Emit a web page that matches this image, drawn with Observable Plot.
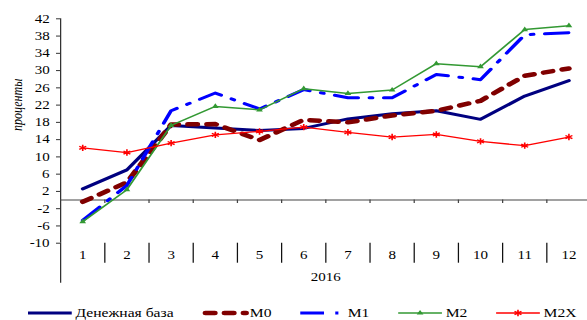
<!DOCTYPE html>
<html>
<head>
<meta charset="utf-8">
<script src="https://cdn.jsdelivr.net/npm/d3@7"></script>
<script src="https://cdn.jsdelivr.net/npm/@observablehq/plot@0.6"></script>
<style>
  html, body { margin: 0; padding: 0; background: #fff; }
  #chart { position: relative; width: 587px; height: 320px; overflow: hidden; }
  #legend { position: absolute; left: 0; top: 303px; display: block; overflow: visible; }
</style>
</head>
<body>
<div id="chart"></div>
<script>
// Monthly growth rates of monetary aggregates, % year on year, 2016
const months = [1, 2, 3, 4, 5, 6, 7, 8, 9, 10, 11, 12];
const year = "2016";
const seriesNames = ["Денежная база", "M0", "M1", "M2", "M2X"];
const baseMoney = [2.6, 7.0, 17.3, 16.7, 16.1, 16.6, 18.8, 20.0, 20.7, 18.7, 24.1, 27.7];
const m0 = [-0.4, 4.1, 17.5, 17.6, 13.9, 18.6, 18.0, 19.6, 20.7, 23.0, 28.8, 30.5];
const m1 = [-4.7, 3.4, 20.7, 24.8, 21.1, 25.6, 23.7, 23.7, 29.1, 27.9, 38.3, 38.8];
const m2 = [-5.0, 2.4, 17.3, 21.7, 20.9, 25.8, 24.7, 25.5, 31.6, 30.9, 39.5, 40.4];
const m2x = [12.1, 11.0, 13.2, 15.1, 15.9, 16.9, 15.7, 14.6, 15.2, 13.6, 12.6, 14.6];
const yTicks = [-10, -6, -2, 2, 6, 10, 14, 18, 22, 26, 30, 34, 38, 42];
const yLabel = "проценты";

// the drawing is laid out in a narrower coordinate system and stretched horizontally
const stretch = 1.25;
const outW = 587, outH = 295;
const W = outW / stretch;

const rows = (values) => months.map((month, i) => ({month, value: values[i]}));
const separators = months.slice(0, -1).map((m) => m + 0.5);
const leftEdge = [months[0] - 0.5];

const styles = {
  "Денежная база": {stroke: "#000080", strokeWidth: 3},
  "M0": {stroke: "#800000", strokeWidth: 4.5, strokeDasharray: "7.5,7.7", strokeLinecap: "round"},
  "M1": {stroke: "#0000ff", strokeWidth: 3, strokeDasharray: "19,9,2.5,9"},
  "M2": {stroke: "#339933", strokeWidth: 1.5},
  "M2X": {stroke: "#ff0000", strokeWidth: 1.3}
};
const seriesValues = [baseMoney, m0, m1, m2, m2x];

const lineMarks = seriesNames.map((name, k) =>
  Plot.line(rows(seriesValues[k]), {x: "month", y: "value", ...styles[name]})
);

const svg = Plot.plot({
  width: W,
  height: outH,
  marginLeft: 48,
  marginRight: 0,
  marginTop: 18.3,
  marginBottom: outH - 242.7,
  style: {fontFamily: "'Liberation Serif', serif", fontSize: "12px", background: "#fff", color: "#000"},
  x: {domain: [0.5, 12.5], range: [48, 590.4 / stretch], label: null},
  y: {domain: [-10, 42], range: [242.7, 18.3], label: null},
  marks: [
    // value axis
    Plot.axisY({ticks: yTicks, tickSize: 3.2, tickPadding: 5.6, tickFormat: (d) => String(d), stroke: "#333", label: null}),
    Plot.ruleX(leftEdge, {x: (d) => d, y1: -10, y2: 42, stroke: "#333"}),
    Plot.text([yLabel], {frameAnchor: "left", dx: -34.4, rotate: -90, fontStyle: "italic", fontSize: 12}),
    // zero line with month separators
    Plot.ruleY([0], {stroke: "#444"}),
    Plot.ruleX(separators, {x: (d) => d, y1: 0, y2: -0.8, stroke: "#444"}),
    // category rows below the plot
    Plot.axisX({ticks: separators, tickSize: 20, tickFormat: () => "", stroke: "#111", label: null}),
    Plot.axisX({ticks: leftEdge, tickSize: 40, tickFormat: () => "", stroke: "#333", label: null}),
    Plot.axisX({ticks: months, tickSize: 0, tickPadding: 7, tickFormat: (d) => String(d), label: null}),
    Plot.text([year], {x: (months[0] + months[months.length - 1]) / 2, y: -10, dy: 34, fontSize: 12}),
    // series
    ...lineMarks,
    Plot.dot(rows(m2), {x: "month", y: "value", symbol: "triangle", r: 2, fill: "#339933"}),
    Plot.dot(rows(m2x), {x: "month", y: "value", symbol: "asterisk", r: 3, stroke: "#ff0000", strokeWidth: 1.3})
  ]
});

function stretchSvg(el, w, h) {
  el.setAttribute("viewBox", `0 0 ${w / stretch} ${h}`);
  el.setAttribute("width", w);
  el.setAttribute("height", h);
  el.setAttribute("preserveAspectRatio", "none");
  el.style.width = w + "px";
  el.style.height = h + "px";
  el.style.maxWidth = "none";
  el.style.overflow = "visible";
}

stretchSvg(svg, outW, outH);
svg.style.display = "block";

const chart = document.getElementById("chart");
chart.appendChild(svg);

// legend: swatch + name for each series, laid out left to right
const ns = "http://www.w3.org/2000/svg";
const legend = document.createElementNS(ns, "svg");
legend.id = "legend";
stretchSvg(legend, outW, 17);
legend.setAttribute("font-family", "'Liberation Serif', serif");
legend.setAttribute("font-size", "12.5");

const swatchW = 35, gapText = 3, gapItem = 23;
let cx = 22.4;
seriesNames.forEach((name) => {
  const s = styles[name];
  const g = document.createElementNS(ns, "g");
  g.setAttribute("transform", `translate(${cx},10)`);
  const ln = document.createElementNS(ns, "line");
  ln.setAttribute("x1", name === "M0" ? 2.5 : 0);
  ln.setAttribute("x2", swatchW);
  ln.setAttribute("stroke", s.stroke);
  ln.setAttribute("stroke-width", s.strokeWidth);
  if (s.strokeDasharray) ln.setAttribute("stroke-dasharray", s.strokeDasharray);
  if (s.strokeLinecap) ln.setAttribute("stroke-linecap", s.strokeLinecap);
  g.appendChild(ln);
  if (name === "M2" || name === "M2X") {
    const p = document.createElementNS(ns, "path");
    const tri = name === "M2";
    p.setAttribute("d", d3.symbol(tri ? d3.symbolTriangle : d3.symbolAsterisk, Math.PI * (tri ? 4 : 9))());
    p.setAttribute("transform", `translate(${swatchW / 2},0)`);
    if (tri) p.setAttribute("fill", s.stroke);
    else {
      p.setAttribute("fill", "none");
      p.setAttribute("stroke", s.stroke);
      p.setAttribute("stroke-width", s.strokeWidth);
    }
    g.appendChild(p);
  }
  const t = document.createElementNS(ns, "text");
  t.setAttribute("x", swatchW + gapText);
  t.setAttribute("dy", "0.34em");
  t.textContent = name;
  g.appendChild(t);
  legend.appendChild(g);
  chart.appendChild(legend);
  cx += swatchW + gapText + t.getComputedTextLength() + gapItem;
});
</script>
</body>
</html>
